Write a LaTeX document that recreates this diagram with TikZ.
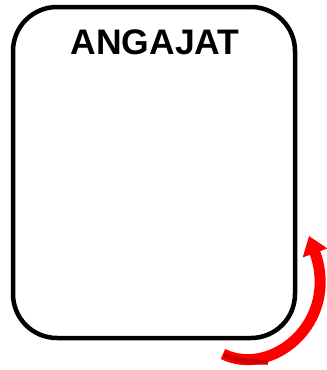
\documentclass[tikz,border=0pt]{standalone}
\usepackage{fontspec}
\setmainfont{Liberation Sans}
\usepackage{xcolor}
\colorlet{myred}{red}
\colorlet{mydarkred}{red!80!black}
\usetikzlibrary{arrows.meta}

\begin{document}
\begin{tikzpicture}[x=1pt,y=-1pt]
      \useasboundingbox (0,0) rectangle (327,370);
      \node[draw, line width=4.5pt, rounded corners=44pt, minimum width=282pt, minimum height=331pt, inner sep=0pt] (box) at (154,172.5) {};
      \node[font=\bfseries\fontsize{35.5}{40}\selectfont, anchor=base] (title) at (155,54) {ANGAJAT};

      \coordinate (tail) at (223,354);
      \coordinate (head) at (309,236);
      \draw[myred, line width=11pt, -{Triangle[width=25pt,length=18pt]}]
        (tail) .. controls (272,378) and (340,322) .. (head);
      \draw[mydarkred, line width=5pt] (224,355) .. controls (240,361) and (252,363) .. (268,362);
    \end{tikzpicture}
\end{document}
